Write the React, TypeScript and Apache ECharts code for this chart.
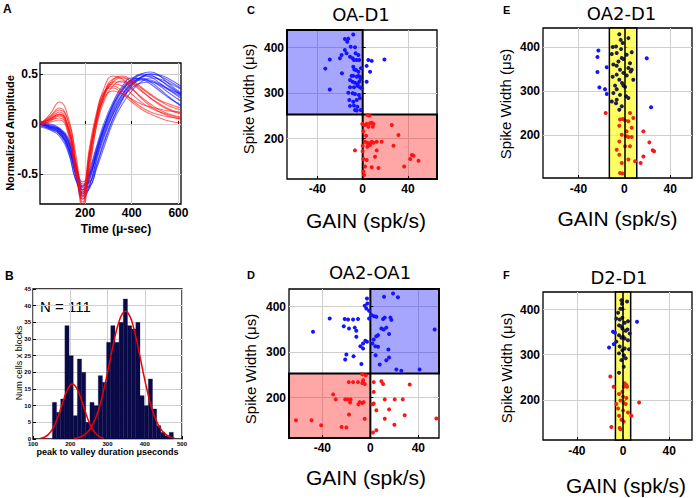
import React, { useEffect, useRef } from 'react';
import * as echarts from 'echarts';

// ---------- Panel A: waveforms ----------
const waveTimes = [10, 50, 90, 130, 160, 190, 220, 250, 280, 320, 360, 400, 440, 480, 520, 560, 610];
const blueWaves = [
  [0.02, -0.02, -0.05, -0.18, -0.42, -0.66, -0.52, -0.28, -0.06, 0.16, 0.33, 0.44, 0.49, 0.47, 0.41, 0.34, 0.26],
  [0.0, -0.04, -0.08, -0.24, -0.5, -0.72, -0.6, -0.36, -0.14, 0.1, 0.28, 0.4, 0.47, 0.48, 0.44, 0.38, 0.3],
  [-0.02, -0.05, -0.1, -0.28, -0.55, -0.62, -0.45, -0.22, 0.0, 0.22, 0.38, 0.46, 0.45, 0.4, 0.33, 0.26, 0.19],
  [0.03, 0.0, -0.04, -0.15, -0.38, -0.6, -0.58, -0.4, -0.2, 0.05, 0.24, 0.38, 0.46, 0.5, 0.48, 0.43, 0.36],
  [0.0, -0.03, -0.07, -0.22, -0.48, -0.7, -0.56, -0.3, -0.08, 0.14, 0.3, 0.4, 0.44, 0.43, 0.38, 0.31, 0.23],
  [-0.03, -0.06, -0.12, -0.3, -0.56, -0.68, -0.5, -0.26, -0.04, 0.18, 0.35, 0.45, 0.5, 0.49, 0.44, 0.37, 0.29],
  [0.01, -0.02, -0.06, -0.2, -0.44, -0.64, -0.62, -0.44, -0.24, 0.02, 0.2, 0.33, 0.42, 0.46, 0.45, 0.41, 0.35],
  [0.0, -0.04, -0.09, -0.26, -0.52, -0.75, -0.62, -0.34, -0.1, 0.12, 0.3, 0.42, 0.5, 0.52, 0.48, 0.4, 0.31],
  [0.02, -0.01, -0.05, -0.17, -0.4, -0.58, -0.5, -0.32, -0.12, 0.1, 0.26, 0.36, 0.41, 0.42, 0.39, 0.34, 0.28],
  [-0.01, -0.05, -0.1, -0.25, -0.5, -0.66, -0.54, -0.28, -0.05, 0.2, 0.36, 0.44, 0.46, 0.42, 0.35, 0.27, 0.18],
  [0.0, -0.03, -0.08, -0.23, -0.47, -0.69, -0.64, -0.42, -0.18, 0.06, 0.25, 0.39, 0.47, 0.5, 0.49, 0.45, 0.38],
  [0.01, -0.03, -0.06, -0.19, -0.43, -0.63, -0.48, -0.24, -0.03, 0.19, 0.34, 0.42, 0.45, 0.44, 0.4, 0.35, 0.3],
];
const redWaves = [
  [0.0, 0.06, 0.12, -0.05, -0.4, -0.72, -0.3, 0.05, 0.28, 0.42, 0.42, 0.35, 0.27, 0.2, 0.14, 0.1, 0.07],
  [0.0, 0.1, 0.22, 0.05, -0.35, -0.8, -0.35, 0.1, 0.35, 0.48, 0.45, 0.36, 0.26, 0.18, 0.12, 0.08, 0.05],
  [0.02, 0.04, 0.06, -0.08, -0.45, -0.68, -0.25, 0.08, 0.3, 0.4, 0.38, 0.3, 0.22, 0.16, 0.12, 0.09, 0.06],
  [-0.02, 0.03, 0.08, -0.1, -0.48, -0.75, -0.4, -0.02, 0.22, 0.38, 0.43, 0.4, 0.33, 0.26, 0.2, 0.15, 0.11],
  [0.0, 0.05, 0.1, -0.04, -0.38, -0.62, -0.22, 0.12, 0.32, 0.36, 0.3, 0.22, 0.15, 0.1, 0.06, 0.03, 0.01],
  [0.01, 0.08, 0.16, 0.0, -0.4, -0.78, -0.32, 0.06, 0.3, 0.45, 0.47, 0.42, 0.34, 0.26, 0.19, 0.14, 0.1],
  [0.0, 0.02, 0.04, -0.12, -0.5, -0.7, -0.28, 0.04, 0.25, 0.33, 0.3, 0.25, 0.2, 0.17, 0.15, 0.13, 0.12],
  [-0.01, 0.04, 0.09, -0.06, -0.42, -0.84, -0.45, 0.0, 0.26, 0.42, 0.46, 0.42, 0.36, 0.29, 0.23, 0.18, 0.14],
  [0.0, 0.07, 0.14, 0.02, -0.3, -0.66, -0.3, 0.08, 0.3, 0.38, 0.33, 0.24, 0.17, 0.12, 0.09, 0.07, 0.05],
  [0.01, 0.05, 0.1, -0.05, -0.43, -0.73, -0.36, 0.02, 0.27, 0.44, 0.48, 0.44, 0.37, 0.3, 0.24, 0.2, 0.16],
];
const aXTicks = [200, 400, 600];
const aYTicks = [-0.5, 0, 0.5];

// ---------- Panel B: histogram ----------
const histBinStart = 152;
const histBinWidth = 11.2;
const histCounts = [11, 8, 12, 34, 25, 7, 24, 20, 5, 11, 10, 19, 17, 29, 34, 29, 35, 42, 34, 33, 35, 13, 10, 18, 9, 4, 2, 1, 2];
const fit1Times = [120, 130, 140, 150, 160, 170, 180, 190, 200, 206, 210, 220, 230, 240, 250, 260, 270, 280, 290];
const fit1Values = [0.2, 0.53, 1.24, 2.56, 4.69, 7.6, 11.0, 14.2, 16.2, 16.5, 16.3, 14.7, 11.7, 8.3, 5.2, 2.9, 1.45, 0.64, 0.25];
const fit2Times = [210, 220, 230, 240, 250, 260, 270, 280, 290, 300, 310, 320, 330, 340, 348, 360, 370, 380, 390, 400, 410, 420, 430, 440, 450, 460, 470, 480];
const fit2Values = [0.17, 0.37, 0.74, 1.4, 2.5, 4.3, 6.8, 10.3, 14.8, 19.9, 25.4, 30.7, 34.9, 37.6, 38.3, 36.8, 33.4, 28.6, 23.2, 17.8, 12.9, 8.8, 5.7, 3.5, 2.0, 1.1, 0.56, 0.28];
const bXTicks = [100, 200, 300, 400, 500];
const bYTicks = [0, 5, 10, 15, 20, 25, 30, 35, 40, 45];

// ---------- Panels C-F: scatter (GAIN, spike width) ----------
const gainTicks = [-40, 0, 40];
const widthTicks = [200, 300, 400];
const widthSplit = 253;

const cBlue = [
  [-8.3, 429], [-15.7, 419], [-12.7, 420], [-13.6, 413], [-6.8, 401], [-10.6, 402], [-15.7, 395], [-14.2, 388], [-6.2, 388],
  [-3.8, 384], [-18.6, 384], [-11.2, 380], [-29, 374], [-20.1, 377], [-8.9, 377], [-7.7, 373], [-5.3, 373], [-3, 373],
  [-33, 354], [-18.3, 344], [-8.3, 358], [-7.4, 352], [-5.9, 351], [-3.8, 347], [-9.8, 338], [-8.3, 338], [-5.3, 336],
  [-3.8, 338], [-2.4, 336], [-1.8, 331], [-11.2, 329], [-8.9, 325], [-6.8, 323], [-4.4, 320], [-3, 325], [-29, 308],
  [-11.2, 313], [-7.7, 313], [-4.7, 316], [-2.4, 313], [-12.7, 301], [-8.9, 300], [-6.8, 298], [-3.3, 296], [-11.8, 285],
  [-8.3, 281], [-5.3, 285], [-2.4, 289], [-11.2, 272], [-7.7, 273], [-4.7, 270], [-6.8, 263], [-5.3, 262], [-1.8, 263],
  [-1.5, 355], [-0.9, 311], [5, 373], [8, 371], [19.2, 374], [3.5, 360], [6.5, 347], [3.5, 325],
];
const cRed = [
  [4.1, 252], [5.9, 250.5], [-0.3, 232], [2.1, 230], [3.5, 232], [6.5, 233.7], [8, 235], [9.5, 232], [5, 226], [8.9, 226],
  [25.7, 230], [-6.8, 174], [2.1, 193], [4.1, 191], [5, 188], [6.5, 190], [8, 193], [9.5, 191], [12.4, 193], [16.8, 193],
  [4.1, 182], [6.5, 186], [27.2, 184], [31.6, 208], [0.6, 155], [3.5, 153], [10.9, 160], [12.4, 174], [43.4, 164],
  [44.9, 162], [42, 155], [49.3, 151], [8, 137], [2.1, 138.5], [13.9, 135], [36.6, 138.5], [0.6, 127.5], [1.2, 120],
  [0.6, 216], [3, 206], [0, 184], [0, 172],
];
const dBlue = [
  [18.9, 429], [23, 421], [11.4, 422], [-2.8, 418], [-2.5, 407], [-4.7, 402], [-3.3, 396], [-1.1, 391], [-33.9, 374],
  [-21.4, 373], [-18.6, 372], [-14.4, 372], [-10.3, 373], [-1.1, 374], [0.8, 382], [3.1, 379], [5, 378], [12, 376],
  [16.7, 376], [17.5, 371], [-22.2, 357], [-17.8, 352], [-13, 354], [-11.7, 347], [-47.8, 345], [9.2, 352], [13.3, 354],
  [11.1, 350], [6.4, 337.5], [5, 335], [15.6, 340], [-11.7, 334], [53.6, 350], [-4.2, 325], [-2.8, 323], [-6.1, 319],
  [-8.3, 313], [-6.1, 308], [1.7, 319], [4.2, 313], [6.4, 312], [15, 306], [-20, 295], [-21, 284], [-14, 291], [4.4, 293],
  [15.6, 288], [13.3, 282], [7.8, 273], [-7.5, 274], [21.7, 262], [25.8, 259], [41, 262], [2.8, 328], [10.6, 373],
];
const dRed = [
  [-6.7, 251.5], [-3.9, 249], [-18, 234], [-14.4, 234], [-10.3, 234], [-6.7, 232], [-4.7, 230], [2.8, 234], [9.2, 236],
  [10.6, 230], [32.8, 229], [-6, 238], [-31, 207], [-28.9, 196], [-21, 196], [-19, 196], [-16.4, 196], [-16.9, 189],
  [-10, 185], [-8.9, 190], [-6.7, 188], [-5.6, 190], [2.8, 187], [12, 196], [20.3, 196], [27, 196], [5, 172],
  [-17.8, 162.5], [-4.7, 153.6], [12, 153.6], [15.6, 174], [28.6, 161], [20, 140], [55, 154], [-49, 150], [-62, 150],
  [-41, 139], [-24, 135], [-20, 134], [5, 128], [2.2, 123], [2.8, 212.5], [1.7, 185.3],
];
const eBlue = [
  [-22.7, 393], [-23.5, 378], [-23.5, 344], [-15.4, 355], [-21.8, 309], [-16.9, 305], [-15.4, 294], [19.5, 375], [23.3, 264],
  [-4.4, 430], [-3.2, 417], [3.5, 421], [-1.5, 410], [-7.3, 402], [-10.2, 401], [-2.9, 396], [-6.7, 387], [6.4, 389],
  [-11, 385], [2, 383], [-2.3, 376], [-0.9, 373.5], [-5.2, 368], [4.9, 364], [-9.6, 361], [-6.7, 358], [-3.8, 349],
  [3.5, 353], [6.4, 349], [-0.9, 342], [-6.7, 338], [-10.2, 333], [2, 336], [7.8, 326.5], [-4.4, 326.5], [-2, 319],
  [-0.9, 313], [-8.1, 313], [-6.7, 305], [-9.6, 296], [-3.8, 292], [1.5, 289], [3.5, 285], [-6.7, 281], [-7.3, 273],
  [-11, 277], [-2.3, 266], [-4.4, 258], [5.5, 345], [0.6, 310],
];
const eRed = [
  [-16.3, 251], [4.9, 251], [-1.5, 237], [-3.8, 236], [0.6, 234], [3.5, 232], [7.8, 239.6], [-4.4, 222], [2, 209],
  [-2.3, 201.5], [1.5, 198], [3.5, 196], [6.4, 196], [-4.4, 186], [4.9, 175], [-6.7, 167.4], [-4.4, 156], [3.5, 145],
  [-2.3, 137], [-3.8, 114.4], [-1.7, 113], [16.6, 209], [21.8, 184], [24.7, 166], [25.9, 164], [16.6, 152], [14.2, 137],
  [9.3, 141], [0.6, 175], [6.4, 217],
];
const fBlue = [
  [-1.4, 420.6], [3.5, 418], [-0.9, 413], [-2.3, 402], [-0.6, 402], [-4.3, 393], [-5.8, 380], [-2.9, 378], [-0.6, 382],
  [1.4, 371], [4.3, 374], [-3.5, 365], [-1.7, 363], [-0.6, 358], [3.8, 356], [2.3, 353], [5.8, 347], [-3.5, 343], [0, 340],
  [-1.4, 337.5], [1.4, 336], [4.3, 332], [-5.8, 329], [-2.9, 318], [-0.6, 310], [1.4, 314], [5.2, 312], [-3.5, 303],
  [0.6, 299], [2.3, 292], [-1.4, 288], [0.6, 273.5], [-3.5, 260], [-8.7, 351], [-7, 348.5], [-12.1, 316], [-8.1, 323.5],
  [12.1, 373],
];
const fRed = [
  [-11, 251.5], [-8.1, 229], [1.4, 237], [2.9, 233], [0.6, 229], [3.5, 229], [-0.6, 218], [-3.5, 213], [0, 207], [2.9, 204],
  [-2.3, 198.5], [0.6, 193], [2.3, 191], [-5.8, 191], [-4.3, 181], [0, 176.5], [4.3, 172], [7.2, 164.7], [13.9, 194],
  [-3.5, 164.7], [-1.4, 156], [0.6, 152], [-2.9, 137.5], [-10.1, 140], [-2.3, 135],
];
const eBand = [-13.1, 10.8];
const fBand = [-6.6, 6.6];

const ranges = {
  C: { x: [-66.8, 65.6], y: [111, 439] },
  D: { x: [-67.8, 57.2], y: [111, 439] },
  E: { x: [-71, 59], y: [103, 444] },
  F: { x: [-69.3, 59.7], y: [111, 439] },
};

const FONT = 'Liberation Sans, Arial, sans-serif';
const BLUE = '#1414ff';
const RED = '#ff1414';
const DARK = '#1e1e4e';

function mkAxis(gridIndex: number, min: number, max: number, ticks: number[], fontSize: number, margin: number) {
  return {
    type: 'value',
    gridIndex,
    min,
    max,
    axisLine: { show: false },
    axisTick: { show: true, inside: true, length: 3, customValues: ticks, lineStyle: { color: '#000' } },
    axisLabel: { customValues: ticks, fontSize, fontWeight: 'bold', color: '#000', fontFamily: FONT, margin },
    splitLine: { show: true, lineStyle: { color: '#cfcfcf', width: 1 } },
  };
}

function scatter(idx: number, data: number[][], color: any, extra: any = {}) {
  return {
    type: 'scatter',
    xAxisIndex: idx,
    yAxisIndex: idx,
    data,
    symbol: 'circle',
    symbolSize: 4,
    silent: true,
    z: 3,
    itemStyle: { color, opacity: 1 },
    ...extra,
  };
}

function txt(text: string, x: number, y: number, size: number, opts: any = {}) {
  return {
    type: 'text',
    x,
    y,
    rotation: opts.rot ? Math.PI / 2 : 0,
    silent: true,
    style: {
      text,
      fill: '#000',
      fontSize: size,
      fontFamily: opts.family || FONT,
      fontWeight: opts.bold ? 'bold' : 'normal',
      align: opts.align || 'center',
      verticalAlign: opts.valign || 'middle',
    },
  };
}

export default function App() {
  const ref = useRef<HTMLDivElement>(null);
  useEffect(() => {
    if (!ref.current) return;
    const chart = echarts.init(ref.current, undefined, { renderer: 'svg' });
    const box = { show: true, borderColor: '#000', borderWidth: 1.3, backgroundColor: '#fff' };

    const bandColor = (band: number[], base: string, inside: string) => (p: any) =>
      p.value[0] >= band[0] && p.value[0] <= band[1] ? inside : base;

    const series: any[] = [];
    blueWaves.forEach((w) =>
      series.push({
        type: 'line', xAxisIndex: 0, yAxisIndex: 0, silent: true, z: 2,
        data: waveTimes.map((t, i) => [t, w[i]]), smooth: 0.5, showSymbol: false, symbol: 'none',
        lineStyle: { color: '#0a0aff', width: 1.1, opacity: 0.6 },
      })
    );
    redWaves.forEach((w) =>
      series.push({
        type: 'line', xAxisIndex: 0, yAxisIndex: 0, silent: true, z: 2,
        data: waveTimes.map((t, i) => [t, w[i]]), smooth: 0.5, showSymbol: false, symbol: 'none',
        lineStyle: { color: '#ff0a0a', width: 1.1, opacity: 0.6 },
      })
    );
    series.push({
      type: 'custom', xAxisIndex: 1, yAxisIndex: 1, silent: true, z: 2,
      data: histCounts.map((c, i) => [histBinStart + i * histBinWidth, histBinStart + (i + 1) * histBinWidth, c]),
      encode: { x: [0, 1], y: 2 },
      renderItem: (params: any, api: any) => {
        const p0 = api.coord([api.value(0), 0]);
        const p1 = api.coord([api.value(1), api.value(2)]);
        return {
          type: 'rect',
          shape: { x: p0[0], y: p1[1], width: p1[0] - p0[0], height: p0[1] - p1[1] },
          style: { fill: '#0a0a48', stroke: '#0a0a48', lineWidth: 0.3 },
        };
      },
    });
    [[fit1Times, fit1Values], [fit2Times, fit2Values]].forEach(([ts, vs]) =>
      series.push({
        type: 'line', xAxisIndex: 1, yAxisIndex: 1, silent: true, z: 4,
        data: ts.map((t, i) => [t, vs[i]]), smooth: true, showSymbol: false, symbol: 'none',
        lineStyle: { color: '#ee0000', width: 1.5 },
      })
    );

    const areaStyle = (color: string, w = 2) => ({ color, borderColor: '#000', borderWidth: w });
    // C
    series.push(scatter(2, cBlue, BLUE, {
      markArea: { silent: true, itemStyle: areaStyle('rgba(0,0,255,0.35)'), label: { show: false },
        data: [[{ coord: [ranges.C.x[0], widthSplit] }, { coord: [0, ranges.C.y[1]] }]] },
    }));
    series.push(scatter(2, cRed, RED, {
      markArea: { silent: true, itemStyle: areaStyle('rgba(255,0,0,0.35)'), label: { show: false },
        data: [[{ coord: [0, ranges.C.y[0]] }, { coord: [ranges.C.x[1], widthSplit] }]] },
    }));
    // D
    series.push(scatter(3, dBlue, BLUE, {
      markArea: { silent: true, itemStyle: areaStyle('rgba(0,0,255,0.35)'), label: { show: false },
        data: [[{ coord: [0, widthSplit] }, { coord: [ranges.D.x[1], ranges.D.y[1]] }]] },
    }));
    series.push(scatter(3, dRed, RED, {
      markArea: { silent: true, itemStyle: areaStyle('rgba(255,0,0,0.35)'), label: { show: false },
        data: [[{ coord: [ranges.D.x[0], ranges.D.y[0]] }, { coord: [0, widthSplit] }]] },
    }));
    // E, F
    const bandMarks = (band: number[], r: any) => ({
      markArea: { silent: true, itemStyle: areaStyle('rgba(255,255,0,0.62)', 1.5), label: { show: false },
        data: [[{ coord: [band[0], r.y[0]] }, { coord: [band[1], r.y[1]] }]] },
      markLine: { silent: true, symbol: 'none', label: { show: false }, animation: false,
        lineStyle: { color: '#000', width: 1.5, type: 'solid' }, data: [{ xAxis: 0 }] },
    });
    series.push(scatter(4, eBlue, bandColor(eBand, BLUE, DARK), bandMarks(eBand, ranges.E)));
    series.push(scatter(4, eRed, bandColor(eBand, RED, '#e82a1a')));
    series.push(scatter(5, fBlue, bandColor(fBand, BLUE, DARK), bandMarks(fBand, ranges.F)));
    series.push(scatter(5, fRed, bandColor(fBand, RED, '#e82a1a')));

    const option: any = {
      animation: false,
      backgroundColor: '#fff',
      grid: [
        { left: 40, top: 63, width: 141, height: 141, ...box },
        { left: 33, top: 289, width: 149, height: 150, ...box },
        { left: 287, top: 30, width: 150, height: 149, ...box },
        { left: 289, top: 289, width: 150, height: 149, ...box },
        { left: 543, top: 28, width: 149, height: 150, ...box },
        { left: 543, top: 292, width: 149, height: 148, ...box },
      ],
      xAxis: [
        mkAxis(0, 7, 611, aXTicks, 12, 3),
        mkAxis(1, 100, 500, bXTicks, 6, 2),
        mkAxis(2, ranges.C.x[0], ranges.C.x[1], gainTicks, 12, 4),
        mkAxis(3, ranges.D.x[0], ranges.D.x[1], gainTicks, 12, 4),
        mkAxis(4, ranges.E.x[0], ranges.E.x[1], gainTicks, 12, 5),
        mkAxis(5, ranges.F.x[0], ranges.F.x[1], gainTicks, 12, 5),
      ],
      yAxis: [
        mkAxis(0, -0.8, 0.61, aYTicks, 12, 2),
        mkAxis(1, 0, 45, bYTicks, 6, 2),
        mkAxis(2, ranges.C.y[0], ranges.C.y[1], widthTicks, 12, 3),
        mkAxis(3, ranges.D.y[0], ranges.D.y[1], widthTicks, 12, 3),
        mkAxis(4, ranges.E.y[0], ranges.E.y[1], widthTicks, 12, 3),
        mkAxis(5, ranges.F.y[0], ranges.F.y[1], widthTicks, 12, 3),
      ],
      series,
      graphic: {
        elements: [
          txt('A', 3, 3, 12, { bold: true, align: 'left', valign: 'top' }),
          txt('B', 5, 270, 12, { bold: true, align: 'left', valign: 'top' }),
          txt('C', 247, 4, 11, { bold: true, align: 'left', valign: 'top' }),
          txt('D', 247, 269, 11, { bold: true, align: 'left', valign: 'top' }),
          txt('E', 503, 4, 11, { bold: true, align: 'left', valign: 'top' }),
          txt('F', 503, 269, 11, { bold: true, align: 'left', valign: 'top' }),
          txt('OA-D1', 361, 14, 18, { family: 'DejaVu Sans' }),
          txt('OA2-OA1', 370, 272, 18, { family: 'DejaVu Sans' }),
          txt('OA2-D1', 621.5, 13.5, 18, { family: 'DejaVu Sans' }),
          txt('D2-D1', 619, 277, 18, { family: 'DejaVu Sans' }),
          txt('Spike Width (μs)', 248, 99, 15, { rot: true }),
          txt('Spike Width (μs)', 250.5, 369, 15, { rot: true }),
          txt('Spike Width (μs)', 505, 104, 15, { rot: true }),
          txt('Spike Width (μs)', 506, 368, 15, { rot: true }),
          txt('GAIN (spk/s)', 366, 220, 21),
          txt('GAIN (spk/s)', 366, 477, 21),
          txt('GAIN (spk/s)', 617.5, 218, 21),
          txt('GAIN (spk/s)', 626, 485, 21),
          txt('Normalized Amplitude', 10, 133, 11, { rot: true, bold: true }),
          txt('Time (μ-sec)', 116, 229, 12, { bold: true }),
          txt('N = 111', 40, 306, 15, { align: 'left' }),
          txt('Num cells x blocks', 19, 363, 9, { rot: true }),
          txt('peak to valley duration μseconds', 107.5, 452, 9, { bold: true }),
        ],
      },
    };
    chart.setOption(option);
    return () => chart.dispose();
  }, []);
  return (
    <div
      ref={ref}
      style={{ position: 'absolute', left: 0, top: 0, width: 697, height: 498, background: '#fff' }}
    />
  );
}
